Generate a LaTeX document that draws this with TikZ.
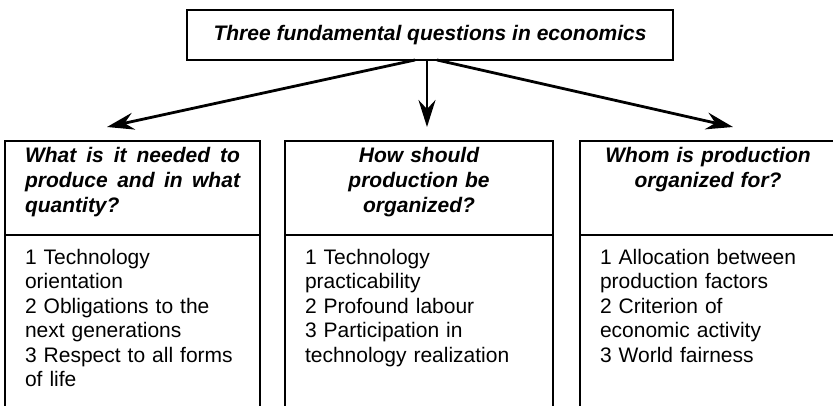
\documentclass[tikz,border=0pt]{standalone}
\usepackage{fontspec}
\setmainfont{Liberation Sans}
\usetikzlibrary{arrows.meta, positioning}
\newcommand{\qfont}{\fontsize{21pt}{24.6pt}\selectfont\bfseries\itshape}
\newcommand{\lfont}{\fontsize{21pt}{24.6pt}\selectfont}
\tikzset{
  titlebox/.style={rectangle, draw, line width=2pt, minimum width=486pt,
    minimum height=50pt, font=\qfont, outer sep=0pt},
  headbox/.style={rectangle, draw, line width=2pt, inner xsep=20pt,
    inner ysep=5pt, text height=17pt, text depth=67pt, font=\qfont, outer sep=0pt},
  bodybox/.style={rectangle, draw, line width=2pt, inner xsep=20pt,
    inner ysep=5pt, text height=24pt, text depth=200pt, align=left,
    font=\lfont, outer sep=0pt},
  arrow/.style={-{Stealth[length=27pt, width=17pt, inset=9pt]}, line width=2.8pt}
}
\begin{document}
\begin{tikzpicture}[x=1pt, y=1pt]
  \useasboundingbox (0,0) rectangle (833,405);
  \clip (0,0) rectangle (833,405);
  \node[titlebox] (title) at (430,370) {Three fundamental questions in economics};

  % question headers
  \node[headbox, text width=215pt, align=justify, anchor=north] (q1) at (132.5,264)
    {What is it needed to produce and in what quantity?};
  \node[headbox, text width=228pt, align=center, right=25pt of q1] (q2)
    {How should\\production be\\organized?};
  \node[headbox, text width=216pt, align=center, right=27pt of q2] (q3)
    {Whom is production\\organized for?};

  % answer lists
  \node[bodybox, text width=215pt, below=0pt of q1] (a1)
    {1 Technology\\orientation\\2 Obligations to the\\next generations\\3 Respect to all forms\\of life};
  \node[bodybox, text width=228pt, below=0pt of q2] (a2)
    {1 Technology\\practicability\\2 Profound labour\\3 Participation in\\technology realization};
  \node[bodybox, text width=216pt, below=0pt of q3] (a3)
    {1 Allocation between\\production factors\\2 Criterion of\\economic activity\\3 World fairness};

  \draw[arrow] ([xshift=-15pt]title.south) -- ([xshift=-25.5pt, yshift=14pt]q1.north);
  \draw[arrow] ([xshift=-3pt]title.south) -- ([xshift=8pt, yshift=14pt]q2.north);
  \draw[arrow] ([xshift=7pt]title.south) -- ([xshift=25pt, yshift=14pt]q3.north);
\end{tikzpicture}
\end{document}
